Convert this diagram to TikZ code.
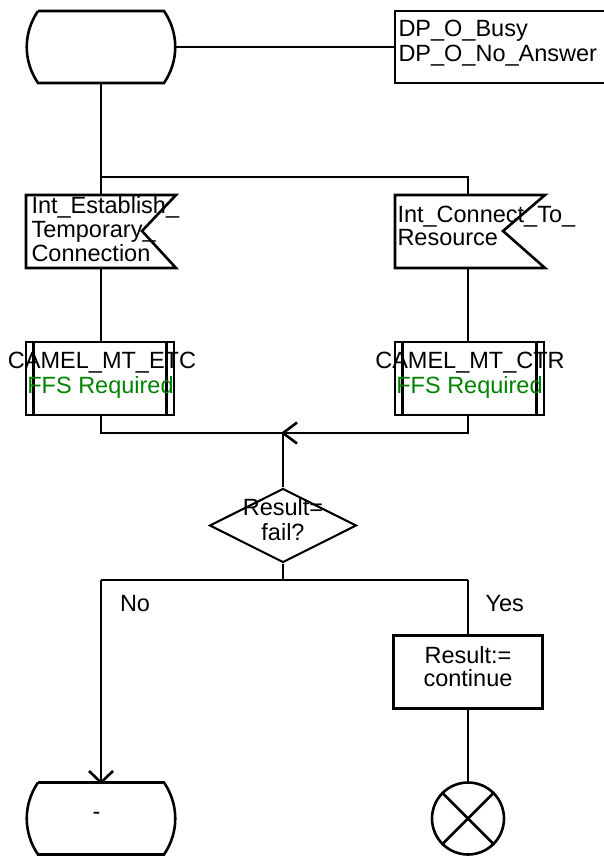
\documentclass[tikz,border=0pt]{standalone}
\usepackage{fontspec}
\setmainfont{Liberation Sans}
\usetikzlibrary{shapes.geometric}
\definecolor{ffsgreen}{RGB}{0,130,0}
\begin{document}
\begin{tikzpicture}[x=1pt,y=-1pt,line width=2.6pt,line join=miter,
  txt/.style={font=\fontsize{23.5}{24.5}\selectfont,inner sep=0pt,outer sep=0pt},
  lefttxt/.style={txt,anchor=base west},
  ctrtxt/.style={txt,anchor=base},
  flow/.style={line width=2.6pt},
  tipline/.style={line width=2.6pt}]
\useasboundingbox (0,0) rectangle (603,856);

% ---- start state
\draw (38,11) -- (164,11) .. controls (179,33) and (179,61) .. (164,83)
      -- (38,83) .. controls (23,61) and (23,33) .. (38,11);
\coordinate (st1E) at (175.5,47);
\coordinate (st1S) at (101,83);

% ---- DP comment box (cut by the right edge)
\draw (615,11) -- (395,11) -- (395,83) -- (615,83);
\coordinate (dpW) at (395,47);
\node[lefttxt] (dp1) at (398.5,37) {DP\_O\_Busy};
\node[lefttxt] (dp2) at (398.5,62) {DP\_O\_No\_Answer};
\draw[flow] (st1E) -- (dpW);

% ---- branch
\coordinate (brL) at (101,177);
\coordinate (brR) at (468,177);
\coordinate (sigLN) at (101,195);
\coordinate (sigRN) at (468,195);
\draw[flow] (st1S) -- (brL) -- (sigLN);
\draw[flow] (brL) -- (brR) -- (sigRN);

% ---- signals
\draw (26,195) -- (176,195) -- (142,231) -- (176,268) -- (26,268) -- cycle;
\draw (395,195) -- (545,195) -- (503,231) -- (545,268) -- (395,268) -- cycle;
\coordinate (sigLS) at (101,268);
\coordinate (sigRS) at (468,268);
\node[lefttxt] (s1a) at (31.5,213) {Int\_Establish\_};
\node[lefttxt] (s1b) at (31.5,237) {Temporary\_};
\node[lefttxt] (s1c) at (31.5,261.5) {Connection};
\node[lefttxt] (s2a) at (397.5,222.5) {Int\_Connect\_To\_};
\node[lefttxt] (s2b) at (397.5,245.5) {Resource};

% ---- procedure calls
\draw (26,342) rectangle (174,415);
\draw (33.5,342) -- (33.5,415) (166.5,342) -- (166.5,415);
\draw (395,342) rectangle (544,415);
\draw (402.5,342) -- (402.5,415) (536.5,342) -- (536.5,415);
\coordinate (prLN) at (101,342);
\coordinate (prRN) at (468,342);
\coordinate (prLS) at (101,415);
\coordinate (prRS) at (468,415);
\node[ctrtxt] (p1a) at (102,368.5) {CAMEL\_MT\_ETC};
\node[ctrtxt,text=ffsgreen] (p1b) at (100.5,393.5) {FFS Required};
\node[ctrtxt] (p2a) at (470,368.5) {CAMEL\_MT\_CTR};
\node[ctrtxt,text=ffsgreen] (p2b) at (469.5,393.5) {FFS Required};
\draw[flow] (sigLS) -- (prLN);
\draw[flow] (sigRS) -- (prRN);

% ---- merge
\coordinate (mgL) at (101,433);
\coordinate (mgR) at (468,433);
\coordinate (mgC) at (283,433);
\draw[flow] (prLS) -- (mgL) -- (mgR) -- (prRS);
\draw[tipline] (297,422.5) -- (mgC) -- (297,443.5);

% ---- decision
\node[draw,shape=diamond,minimum width=147pt,minimum height=74pt,inner sep=0pt,line width=2.1pt] (dec) at (283,525.5) {};
\node[ctrtxt] (d1) at (283,515) {Result=};
\node[ctrtxt] (d2) at (283,540.5) {fail?};
\draw[flow] (dec.north) -- (mgC);

% ---- lower branch
\coordinate (lbC) at (283,580);
\coordinate (lbL) at (101,580);
\coordinate (lbR) at (468,580);
\draw[flow] (dec.south) -- (lbC);
\draw[flow] (lbL) -- (lbR);
\node[lefttxt] (no) at (120,611.5) {No};
\node[lefttxt] (yes) at (485.5,611.5) {Yes};

% ---- task
\node[draw,minimum width=149pt,minimum height=72.5pt,inner sep=0pt] (task) at (468,672) {};
\node[ctrtxt] (t1) at (468,663) {Result:=};
\node[ctrtxt] (t2) at (468,686) {continue};
\draw[flow] (lbR) -- (task.north);

% ---- stop
\node[draw,circle,minimum size=72pt,inner sep=0pt] (stop) at (468,818.5) {};
\draw (stop.north west) -- (stop.south east) (stop.north east) -- (stop.south west);
\draw[flow] (task.south) -- (stop.north);

% ---- end state
\draw (38,782.5) -- (164,782.5) .. controls (179,804.5) and (179,832.5) .. (164,854.5)
      -- (38,854.5) .. controls (23,832.5) and (23,804.5) .. (38,782.5);
\coordinate (st2N) at (101,782.5);
\node[ctrtxt] (dash) at (96.5,819) {-};
\draw[flow] (lbL) -- (st2N);
\draw[tipline] (89,771) -- (st2N) -- (113,771);
\end{tikzpicture}
\end{document}
